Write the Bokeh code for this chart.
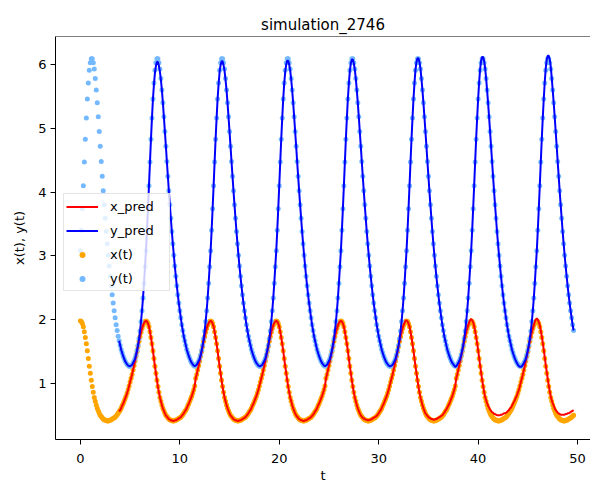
import numpy as np
from bokeh.plotting import figure
from bokeh.models import Range1d, FixedTicker, Legend, LegendItem, Span
from bokeh.embed import file_html
from bokeh.resources import INLINE

title_text = "simulation_2746"
t_step = 0.1
obs_start = 0.0
pred_start = 3.9
x_ticks = [0, 10, 20, 30, 40, 50]
y_ticks = [1, 2, 3, 4, 5, 6]

# observed prey x(t)
x_obs = [
    1.98, 1.97, 1.94, 1.89, 1.81, 1.72, 1.62, 1.51, 1.39, 1.27,
    1.16, 1.05, 0.95, 0.86, 0.78, 0.72, 0.66, 0.61, 0.57, 0.53,
    0.50, 0.48, 0.46, 0.44, 0.43, 0.42, 0.42, 0.41, 0.41, 0.42,
    0.42, 0.43, 0.44, 0.45, 0.46, 0.47, 0.49, 0.51, 0.53, 0.56,
    0.58, 0.61, 0.65, 0.68, 0.72, 0.76, 0.80, 0.85, 0.90, 0.96,
    1.02, 1.08, 1.14, 1.21, 1.28, 1.35, 1.43, 1.50, 1.58, 1.66,
    1.73, 1.80, 1.86, 1.91, 1.95, 1.97,
    1.98, 1.97, 1.94, 1.89, 1.81, 1.72, 1.62, 1.51, 1.39, 1.27,
    1.16, 1.05, 0.95, 0.86, 0.78, 0.72, 0.66, 0.61, 0.57, 0.53,
    0.50, 0.48, 0.46, 0.44, 0.43, 0.42, 0.42, 0.41, 0.41, 0.42,
    0.42, 0.43, 0.44, 0.45, 0.46, 0.47, 0.49, 0.51, 0.53, 0.56,
    0.58, 0.61, 0.65, 0.68, 0.72, 0.76, 0.80, 0.85, 0.90, 0.96,
    1.08, 1.14, 1.21, 1.28, 1.35, 1.43, 1.50, 1.58, 1.66,
    1.73, 1.80, 1.86, 1.91, 1.95, 1.97,
    1.98, 1.97, 1.94, 1.89, 1.81, 1.72, 1.62, 1.51, 1.39, 1.27,
    1.16, 1.05, 0.95, 0.86, 0.78, 0.72, 0.66, 0.61, 0.57, 0.53,
    0.50, 0.48, 0.46, 0.44, 0.43, 0.42, 0.42, 0.41, 0.41, 0.42,
    0.42, 0.43, 0.44, 0.45, 0.46, 0.47, 0.49, 0.51, 0.53, 0.56,
    0.58, 0.61, 0.65, 0.68, 0.72, 0.76, 0.80, 0.85, 0.90, 0.96,
    1.02, 1.08, 1.14, 1.21, 1.28, 1.35, 1.43, 1.50, 1.58, 1.66,
    1.73, 1.80, 1.86, 1.91, 1.95, 1.97,
    1.98, 1.97, 1.94, 1.89, 1.81, 1.72, 1.62, 1.51, 1.39, 1.27,
    1.16, 1.05, 0.95, 0.86, 0.78, 0.72, 0.66, 0.61, 0.57, 0.53,
    0.50, 0.48, 0.46, 0.44, 0.43, 0.42, 0.42, 0.41, 0.41, 0.42,
    0.42, 0.43, 0.44, 0.45, 0.46, 0.47, 0.49, 0.51, 0.53, 0.56,
    0.58, 0.61, 0.65, 0.68, 0.72, 0.76, 0.80, 0.85, 0.90, 0.96,
    1.08, 1.14, 1.21, 1.28, 1.35, 1.43, 1.50, 1.58, 1.66,
    1.73, 1.80, 1.86, 1.91, 1.95, 1.97,
    1.98, 1.97, 1.94, 1.89, 1.81, 1.72, 1.62, 1.51, 1.39, 1.27,
    1.16, 1.05, 0.95, 0.86, 0.78, 0.72, 0.66, 0.61, 0.57, 0.53,
    0.50, 0.48, 0.46, 0.44, 0.43, 0.42, 0.42, 0.41, 0.41, 0.42,
    0.42, 0.43, 0.44, 0.45, 0.46, 0.47, 0.49, 0.51, 0.53, 0.56,
    0.58, 0.61, 0.65, 0.68, 0.72, 0.76, 0.80, 0.85, 0.90, 0.96,
    1.02, 1.08, 1.14, 1.21, 1.28, 1.35, 1.43, 1.50, 1.58, 1.66,
    1.73, 1.80, 1.86, 1.91, 1.95, 1.97,
    1.98, 1.97, 1.94, 1.89, 1.81, 1.72, 1.62, 1.51, 1.39, 1.27,
    1.16, 1.05, 0.95, 0.86, 0.78, 0.72, 0.66, 0.61, 0.57, 0.53,
    0.50, 0.48, 0.46, 0.44, 0.43, 0.42, 0.42, 0.41, 0.41, 0.42,
    0.42, 0.43, 0.44, 0.45, 0.46, 0.47, 0.49, 0.51, 0.53, 0.56,
    0.58, 0.61, 0.65, 0.68, 0.72, 0.76, 0.80, 0.85, 0.90, 0.96,
    1.08, 1.14, 1.21, 1.28, 1.35, 1.43, 1.50, 1.58, 1.66,
    1.73, 1.80, 1.86, 1.91, 1.95, 1.97,
    1.98, 1.97, 1.94, 1.89, 1.81, 1.72, 1.62, 1.51, 1.39, 1.27,
    1.16, 1.05, 0.95, 0.86, 0.78, 0.72, 0.66, 0.61, 0.57, 0.53,
    0.50, 0.48, 0.46, 0.44, 0.43, 0.42, 0.42, 0.41, 0.41, 0.42,
    0.42, 0.43, 0.44, 0.45, 0.46, 0.47, 0.49, 0.51, 0.53, 0.56,
    0.58, 0.61, 0.65, 0.68, 0.72, 0.76, 0.80, 0.85, 0.90, 0.96,
    1.02, 1.08, 1.14, 1.21, 1.28, 1.35, 1.43, 1.50, 1.58, 1.66,
    1.73, 1.80, 1.86, 1.91, 1.95, 1.97,
    1.98, 1.97, 1.94, 1.89, 1.81, 1.72, 1.62, 1.51, 1.39, 1.27,
    1.16, 1.05, 0.95, 0.86, 0.78, 0.72, 0.66, 0.61, 0.57, 0.53,
    0.50, 0.48, 0.46, 0.44, 0.43, 0.42, 0.42, 0.41, 0.41, 0.42,
    0.42, 0.43, 0.44, 0.45, 0.46, 0.47, 0.49, 0.50,
]

# observed predator y(t)
y_obs = [
    3.08, 3.40, 3.74, 4.10, 4.47, 4.83, 5.16, 5.46, 5.71, 5.91,
    6.03, 6.09, 6.09, 6.03, 5.93, 5.78, 5.60, 5.40, 5.18, 4.95,
    4.72, 4.48, 4.25, 4.02, 3.80, 3.59, 3.38, 3.19, 3.01, 2.84,
    2.68, 2.53, 2.39, 2.26, 2.14, 2.03, 1.92, 1.83, 1.74, 1.67,
    1.60, 1.53, 1.48, 1.43, 1.39, 1.35, 1.32, 1.30, 1.28, 1.27,
    1.27, 1.28, 1.29, 1.32, 1.35, 1.39, 1.45, 1.52, 1.60, 1.70,
    1.82, 1.97, 2.14, 2.34, 2.57, 2.83,
    3.08, 3.40, 3.74, 4.10, 4.47, 4.83, 5.16, 5.46, 5.71, 5.91,
    6.03, 6.09, 6.09, 6.03, 5.93, 5.78, 5.60, 5.40, 5.18, 4.95,
    4.72, 4.48, 4.25, 4.02, 3.80, 3.59, 3.38, 3.19, 3.01, 2.84,
    2.68, 2.53, 2.39, 2.26, 2.14, 2.03, 1.92, 1.83, 1.74, 1.67,
    1.60, 1.53, 1.48, 1.43, 1.39, 1.35, 1.32, 1.30, 1.28, 1.27,
    1.28, 1.29, 1.32, 1.35, 1.39, 1.45, 1.52, 1.60, 1.70,
    1.82, 1.97, 2.14, 2.34, 2.57, 2.83,
    3.08, 3.40, 3.74, 4.10, 4.47, 4.83, 5.16, 5.46, 5.71, 5.91,
    6.03, 6.09, 6.09, 6.03, 5.93, 5.78, 5.60, 5.40, 5.18, 4.95,
    4.72, 4.48, 4.25, 4.02, 3.80, 3.59, 3.38, 3.19, 3.01, 2.84,
    2.68, 2.53, 2.39, 2.26, 2.14, 2.03, 1.92, 1.83, 1.74, 1.67,
    1.60, 1.53, 1.48, 1.43, 1.39, 1.35, 1.32, 1.30, 1.28, 1.27,
    1.27, 1.28, 1.29, 1.32, 1.35, 1.39, 1.45, 1.52, 1.60, 1.70,
    1.82, 1.97, 2.14, 2.34, 2.57, 2.83,
    3.08, 3.40, 3.74, 4.10, 4.47, 4.83, 5.16, 5.46, 5.71, 5.91,
    6.03, 6.09, 6.09, 6.03, 5.93, 5.78, 5.60, 5.40, 5.18, 4.95,
    4.72, 4.48, 4.25, 4.02, 3.80, 3.59, 3.38, 3.19, 3.01, 2.84,
    2.68, 2.53, 2.39, 2.26, 2.14, 2.03, 1.92, 1.83, 1.74, 1.67,
    1.60, 1.53, 1.48, 1.43, 1.39, 1.35, 1.32, 1.30, 1.28, 1.27,
    1.28, 1.29, 1.32, 1.35, 1.39, 1.45, 1.52, 1.60, 1.70,
    1.82, 1.97, 2.14, 2.34, 2.57, 2.83,
    3.08, 3.40, 3.74, 4.10, 4.47, 4.83, 5.16, 5.46, 5.71, 5.91,
    6.03, 6.09, 6.09, 6.03, 5.93, 5.78, 5.60, 5.40, 5.18, 4.95,
    4.72, 4.48, 4.25, 4.02, 3.80, 3.59, 3.38, 3.19, 3.01, 2.84,
    2.68, 2.53, 2.39, 2.26, 2.14, 2.03, 1.92, 1.83, 1.74, 1.67,
    1.60, 1.53, 1.48, 1.43, 1.39, 1.35, 1.32, 1.30, 1.28, 1.27,
    1.27, 1.28, 1.29, 1.32, 1.35, 1.39, 1.45, 1.52, 1.60, 1.70,
    1.82, 1.97, 2.14, 2.34, 2.57, 2.83,
    3.08, 3.40, 3.74, 4.10, 4.47, 4.83, 5.16, 5.46, 5.71, 5.91,
    6.03, 6.09, 6.09, 6.03, 5.93, 5.78, 5.60, 5.40, 5.18, 4.95,
    4.72, 4.48, 4.25, 4.02, 3.80, 3.59, 3.38, 3.19, 3.01, 2.84,
    2.68, 2.53, 2.39, 2.26, 2.14, 2.03, 1.92, 1.83, 1.74, 1.67,
    1.60, 1.53, 1.48, 1.43, 1.39, 1.35, 1.32, 1.30, 1.28, 1.27,
    1.28, 1.29, 1.32, 1.35, 1.39, 1.45, 1.52, 1.60, 1.70,
    1.82, 1.97, 2.14, 2.34, 2.57, 2.83,
    3.08, 3.40, 3.74, 4.10, 4.47, 4.83, 5.16, 5.46, 5.71, 5.91,
    6.03, 6.09, 6.09, 6.03, 5.93, 5.78, 5.60, 5.40, 5.18, 4.95,
    4.72, 4.48, 4.25, 4.02, 3.80, 3.59, 3.38, 3.19, 3.01, 2.84,
    2.68, 2.53, 2.39, 2.26, 2.14, 2.03, 1.92, 1.83, 1.74, 1.67,
    1.60, 1.53, 1.48, 1.43, 1.39, 1.35, 1.32, 1.30, 1.28, 1.27,
    1.27, 1.28, 1.29, 1.32, 1.35, 1.39, 1.45, 1.52, 1.60, 1.70,
    1.82, 1.97, 2.14, 2.34, 2.57, 2.83,
    3.08, 3.40, 3.74, 4.10, 4.47, 4.83, 5.16, 5.46, 5.71, 5.91,
    6.03, 6.09, 6.09, 6.03, 5.93, 5.78, 5.60, 5.40, 5.18, 4.95,
    4.72, 4.48, 4.25, 4.02, 3.80, 3.59, 3.38, 3.19, 3.01, 2.84,
    2.68, 2.53, 2.39, 2.26, 2.14, 2.03, 1.92, 1.83,
]

# predicted prey x_pred
x_pred = [
    0.56, 0.58, 0.61, 0.65, 0.68, 0.72, 0.76, 0.80, 0.85, 0.90,
    0.96, 1.02, 1.08, 1.14, 1.21, 1.28, 1.35, 1.43, 1.50, 1.58,
    1.66, 1.73, 1.80, 1.86, 1.91, 1.95, 1.97,
    1.98, 1.97, 1.94, 1.89, 1.81, 1.72, 1.62, 1.51, 1.39, 1.27,
    1.16, 1.05, 0.95, 0.86, 0.78, 0.72, 0.66, 0.61, 0.57, 0.53,
    0.50, 0.48, 0.46, 0.44, 0.43, 0.42, 0.42, 0.41, 0.41, 0.42,
    0.42, 0.43, 0.44, 0.45, 0.46, 0.47, 0.49, 0.51, 0.53, 0.56,
    0.58, 0.61, 0.65, 0.68, 0.72, 0.76, 0.80, 0.85, 0.90, 0.96,
    1.08, 1.14, 1.21, 1.28, 1.35, 1.43, 1.50, 1.58, 1.66,
    1.73, 1.80, 1.86, 1.91, 1.95, 1.97,
    1.98, 1.97, 1.94, 1.89, 1.81, 1.72, 1.62, 1.51, 1.39, 1.27,
    1.16, 1.05, 0.95, 0.86, 0.78, 0.72, 0.66, 0.61, 0.57, 0.53,
    0.50, 0.48, 0.46, 0.44, 0.43, 0.42, 0.42, 0.41, 0.41, 0.42,
    0.42, 0.43, 0.44, 0.45, 0.46, 0.47, 0.49, 0.51, 0.53, 0.56,
    0.58, 0.61, 0.65, 0.68, 0.72, 0.76, 0.80, 0.85, 0.90, 0.96,
    1.02, 1.08, 1.14, 1.21, 1.28, 1.35, 1.43, 1.50, 1.58, 1.66,
    1.73, 1.80, 1.86, 1.91, 1.95, 1.97,
    1.98, 1.97, 1.94, 1.89, 1.81, 1.72, 1.62, 1.51, 1.39, 1.27,
    1.16, 1.05, 0.95, 0.86, 0.78, 0.72, 0.66, 0.61, 0.57, 0.53,
    0.50, 0.48, 0.46, 0.44, 0.43, 0.42, 0.42, 0.41, 0.41, 0.42,
    0.42, 0.43, 0.44, 0.45, 0.46, 0.47, 0.49, 0.51, 0.53, 0.56,
    0.58, 0.61, 0.65, 0.68, 0.72, 0.76, 0.80, 0.85, 0.90, 0.96,
    1.08, 1.14, 1.21, 1.28, 1.35, 1.43, 1.50, 1.58, 1.66,
    1.73, 1.80, 1.86, 1.91, 1.95, 1.97,
    1.98, 1.97, 1.94, 1.89, 1.81, 1.72, 1.62, 1.51, 1.39, 1.27,
    1.16, 1.05, 0.95, 0.86, 0.78, 0.72, 0.66, 0.61, 0.57, 0.53,
    0.50, 0.48, 0.46, 0.45, 0.44, 0.43, 0.43, 0.42, 0.42, 0.43,
    0.43, 0.44, 0.45, 0.46, 0.47, 0.48, 0.49, 0.51, 0.53, 0.56,
    0.58, 0.61, 0.65, 0.68, 0.72, 0.76, 0.80, 0.85, 0.90, 0.96,
    1.02, 1.08, 1.14, 1.21, 1.28, 1.35, 1.43, 1.50, 1.58, 1.66,
    1.73, 1.80, 1.86, 1.91, 1.95, 1.98,
    1.99, 1.97, 1.94, 1.89, 1.81, 1.72, 1.62, 1.51, 1.39, 1.27,
    1.16, 1.05, 0.95, 0.86, 0.78, 0.72, 0.66, 0.61, 0.57, 0.53,
    0.51, 0.49, 0.47, 0.46, 0.45, 0.44, 0.44, 0.43, 0.43, 0.44,
    0.44, 0.45, 0.46, 0.47, 0.48, 0.49, 0.50,
    0.52, 0.54, 0.57, 0.59, 0.62, 0.65, 0.68, 0.72, 0.76, 0.80,
    0.85, 0.90, 0.96,
    1.08, 1.14, 1.21, 1.28, 1.35, 1.43, 1.50, 1.58, 1.66, 1.73,
    1.80, 1.86, 1.91, 1.96, 1.99,
    2.01, 1.99, 1.96, 1.90, 1.82, 1.73, 1.63, 1.52, 1.40, 1.28,
    1.17, 1.06, 0.96, 0.87,
    0.79, 0.74, 0.69, 0.65, 0.62, 0.59, 0.57, 0.55, 0.54, 0.52,
    0.52, 0.51, 0.50, 0.50, 0.50, 0.50, 0.51, 0.51, 0.52, 0.53,
    0.53, 0.54, 0.55, 0.57, 0.58, 0.61, 0.62, 0.65, 0.68, 0.71,
    0.74, 0.78, 0.81, 0.86,
    0.90, 0.96, 1.02, 1.08, 1.14, 1.21, 1.28, 1.35, 1.43, 1.50,
    1.58, 1.66, 1.73, 1.80, 1.86, 1.91, 1.97, 2.00,
    2.02, 2.00, 1.96, 1.91, 1.83, 1.74, 1.64, 1.53, 1.41, 1.29,
    1.18, 1.07, 0.97, 0.88, 0.80, 0.74, 0.69, 0.65, 0.61, 0.58,
    0.56, 0.54, 0.53, 0.52, 0.51, 0.51, 0.51, 0.51, 0.51, 0.52,
    0.52, 0.53, 0.53, 0.54, 0.55, 0.56, 0.57, 0.58,
]

# predicted predator y_pred
y_pred = [
    1.67, 1.60, 1.53, 1.48, 1.43, 1.39, 1.35, 1.32, 1.30, 1.28,
    1.27, 1.27, 1.28, 1.29, 1.32, 1.35, 1.39, 1.45, 1.52, 1.60,
    1.70, 1.82, 1.97, 2.14, 2.34, 2.57, 2.83,
    3.08, 3.40, 3.74, 4.10, 4.47, 4.83, 5.16, 5.46, 5.69, 5.87,
    5.98, 6.04, 6.04, 5.98, 5.89, 5.76, 5.60, 5.40, 5.18, 4.95,
    4.72, 4.48, 4.25, 4.02, 3.80, 3.59, 3.38, 3.19, 3.01, 2.84,
    2.68, 2.53, 2.39, 2.26, 2.14, 2.03, 1.92, 1.83, 1.74, 1.67,
    1.60, 1.53, 1.48, 1.43, 1.39, 1.35, 1.32, 1.30, 1.28, 1.27,
    1.28, 1.29, 1.32, 1.35, 1.39, 1.45, 1.52, 1.60, 1.70,
    1.82, 1.97, 2.14, 2.34, 2.57, 2.83,
    3.08, 3.40, 3.74, 4.10, 4.47, 4.83, 5.16, 5.46, 5.69, 5.88,
    5.99, 6.05, 6.05, 5.99, 5.90, 5.76, 5.60, 5.40, 5.18, 4.95,
    4.72, 4.48, 4.25, 4.02, 3.80, 3.59, 3.38, 3.19, 3.01, 2.84,
    2.68, 2.53, 2.39, 2.26, 2.14, 2.03, 1.92, 1.83, 1.74, 1.67,
    1.60, 1.53, 1.48, 1.43, 1.39, 1.35, 1.32, 1.30, 1.28, 1.27,
    1.27, 1.28, 1.29, 1.32, 1.35, 1.39, 1.45, 1.52, 1.60, 1.70,
    1.82, 1.97, 2.14, 2.34, 2.57, 2.83,
    3.08, 3.40, 3.74, 4.10, 4.47, 4.83, 5.16, 5.46, 5.70, 5.89,
    6.00, 6.06, 6.06, 6.00, 5.91, 5.77, 5.60, 5.40, 5.18, 4.95,
    4.72, 4.48, 4.25, 4.02, 3.80, 3.59, 3.38, 3.19, 3.01, 2.84,
    2.68, 2.53, 2.39, 2.26, 2.14, 2.03, 1.92, 1.83, 1.74, 1.67,
    1.60, 1.53, 1.48, 1.43, 1.39, 1.35, 1.32, 1.30, 1.28, 1.27,
    1.28, 1.29, 1.32, 1.35, 1.39, 1.45, 1.52, 1.60, 1.70,
    1.82, 1.97, 2.14, 2.34, 2.57, 2.83,
    3.08, 3.40, 3.74, 4.10, 4.47, 4.83, 5.16, 5.46, 5.70, 5.90,
    6.02, 6.08, 6.08, 6.02, 5.92, 5.78, 5.60, 5.40, 5.18, 4.95,
    4.72, 4.48, 4.25, 4.02, 3.80, 3.59, 3.38, 3.19, 3.01, 2.84,
    2.68, 2.53, 2.39, 2.26, 2.14, 2.03, 1.92, 1.83, 1.74, 1.67,
    1.60, 1.53, 1.48, 1.43, 1.39, 1.35, 1.32, 1.30, 1.28, 1.27,
    1.27, 1.28, 1.29, 1.32, 1.35, 1.39, 1.45, 1.52, 1.60, 1.70,
    1.82, 1.97, 2.14, 2.34, 2.57, 2.83,
    3.08, 3.40, 3.74, 4.10, 4.47, 4.83, 5.16, 5.46, 5.71, 5.92,
    6.04, 6.10, 6.10, 6.04, 5.94, 5.78, 5.60, 5.40, 5.18, 4.95,
    4.72, 4.48, 4.25, 4.02, 3.80, 3.59, 3.38, 3.19, 3.01, 2.84,
    2.68, 2.53, 2.39, 2.26, 2.14, 2.03, 1.92, 1.83, 1.74, 1.67,
    1.60, 1.53, 1.48, 1.43, 1.39, 1.35, 1.32, 1.30, 1.28, 1.26,
    1.27, 1.29, 1.32, 1.35, 1.39, 1.45, 1.52, 1.60, 1.70,
    1.82, 1.97, 2.14, 2.34, 2.57, 2.83,
    3.08, 3.40, 3.74, 4.10, 4.47, 4.83, 5.16, 5.46, 5.72, 5.93,
    6.06, 6.12, 6.12, 6.06, 5.95, 5.79, 5.60, 5.40, 5.18, 4.95,
    4.72, 4.48, 4.25, 4.02, 3.80, 3.59, 3.38, 3.19, 3.01, 2.84,
    2.68, 2.53, 2.39, 2.26, 2.14, 2.03, 1.92, 1.83, 1.74, 1.67,
    1.60, 1.53, 1.48, 1.43, 1.39, 1.35, 1.32, 1.29, 1.27, 1.26,
    1.26, 1.27, 1.29, 1.32, 1.35, 1.39, 1.45, 1.52, 1.60, 1.70,
    1.82, 1.97, 2.14, 2.34, 2.57, 2.83,
    3.08, 3.40, 3.74, 4.10, 4.47, 4.83, 5.16, 5.46, 5.73, 5.94,
    6.08, 6.14, 6.14, 6.08, 5.97, 5.80, 5.60, 5.40, 5.18, 4.95,
    4.72, 4.48, 4.25, 4.02, 3.80, 3.59, 3.38, 3.19, 3.01, 2.84,
    2.68, 2.53, 2.39, 2.26, 2.14, 2.03, 1.92, 1.83,
]


def time_axis(start, n):
    return [round(start + i * t_step, 2) for i in range(n)]


t_x_obs = time_axis(obs_start, len(x_obs))
t_y_obs = time_axis(obs_start, len(y_obs))
t_x_pred = time_axis(pred_start, len(x_pred))
t_y_pred = time_axis(pred_start, len(y_pred))

FONT = "DejaVu Sans"

p = figure(
    width=590, height=485,
    x_range=Range1d(-2.5, 51.3), y_range=Range1d(0.12, 6.44),
    output_backend="svg", toolbar_location=None, title=title_text,
    min_border_left=55, min_border_right=0, min_border_top=36, min_border_bottom=44,
)
p.background_fill_color = "white"
p.border_fill_color = "white"
p.outline_line_color = None
p.grid.visible = False

p.title.text_font = FONT
p.title.text_font_size = "15px"
p.title.text_font_style = "normal"
p.title.text_color = "black"
p.title.align = "center"
p.title.standoff = 6

p.xaxis.ticker = FixedTicker(ticks=x_ticks)
p.yaxis.ticker = FixedTicker(ticks=y_ticks)
p.xaxis.axis_label = "t"
p.yaxis.axis_label = "x(t), y(t)"
for ax in p.axis:
    ax.axis_line_color = "black"
    ax.axis_line_width = 1
    ax.major_tick_line_color = "black"
    ax.major_tick_out = 5
    ax.major_tick_in = 0
    ax.minor_tick_line_color = None
    ax.major_label_text_font = FONT
    ax.major_label_text_font_size = "13px"
    ax.major_label_text_color = "black"
    ax.axis_label_text_font = FONT
    ax.axis_label_text_font_size = "13px"
    ax.axis_label_text_font_style = "normal"
    ax.axis_label_text_color = "black"
p.xaxis.major_label_standoff = 9
p.xaxis.axis_label_standoff = 2
p.yaxis.major_label_standoff = 4
p.yaxis.axis_label_standoff = 8

top_spine = Span(location=6.44, dimension="width", line_color="black", line_width=1)
p.add_layout(top_spine)

r_xobs = p.scatter(t_x_obs, x_obs, size=5, fill_color="#ffa500", line_color=None)
r_yobs = p.scatter(t_y_obs, y_obs, size=5, fill_color="#74b9ff", line_color=None)
r_xpred = p.line(t_x_pred, x_pred, line_color="#ff0000", line_width=2)
r_ypred = p.line(t_y_pred, y_pred, line_color="#0000ff", line_width=2)

legend = Legend(
    items=[
        LegendItem(label="x_pred", renderers=[r_xpred]),
        LegendItem(label="y_pred", renderers=[r_ypred]),
        LegendItem(label="x(t)", renderers=[r_xobs]),
        LegendItem(label="y(t)", renderers=[r_yobs]),
    ],
    location=(8, 148),
)
legend.margin = 0
legend.padding = 2
legend.spacing = 4
legend.glyph_width = 32
legend.glyph_height = 15
legend.label_height = 20
legend.label_width = 57
legend.label_standoff = 12
legend.label_text_font = FONT
legend.label_text_font_size = "13px"
legend.label_text_color = "black"
legend.border_line_color = "#cccccc"
legend.border_line_width = 1
legend.background_fill_color = "white"
legend.background_fill_alpha = 0.8
p.add_layout(legend, "center")

html = file_html(p, INLINE)
open("out.html", "w").write(html)
